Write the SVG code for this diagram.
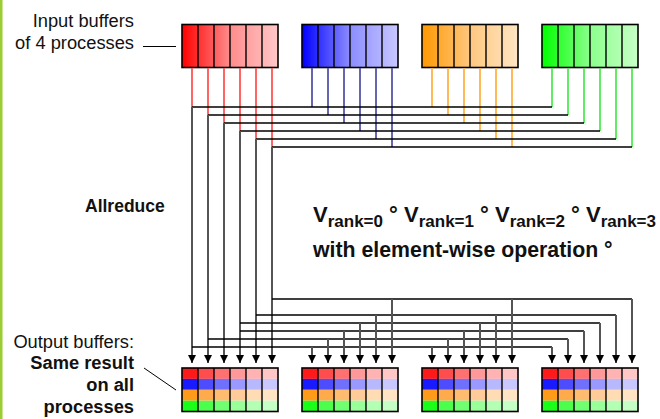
<svg xmlns="http://www.w3.org/2000/svg" width="660" height="419" viewBox="0 0 660 419">
  <style>
    .lbl { font-family: "Liberation Sans", Arial, sans-serif; fill: #111; }
    .side { font-size: 18.3px; }
    .b { font-weight: bold; }
    .title { font-size: 17.5px; }
    .eq { font-size: 22px; }
    .sub { font-size: 17px; }
    .note { font-size: 21.3px; }
    .box { fill: none; stroke: #000; stroke-width: 1.6; }
    .div { stroke: #000; stroke-width: 1.4; }
    .tie { stroke: #000; stroke-width: 1.3; fill: none; }
    .feed { stroke: #555; stroke-width: 2; fill: none; marker-end: url(#head); }
    .r { stroke: #ff5555; stroke-width: 1.8; }
    .bl { stroke: #5555aa; stroke-width: 1.8; }
    .o { stroke: #ffb347; stroke-width: 1.8; }
    .g { stroke: #55e855; stroke-width: 1.8; }
  </style>
  <defs>
    <linearGradient id="gr" x1="0" x2="1" y1="0" y2="0">
      <stop offset="0" stop-color="#ff0000"/><stop offset="0.5" stop-color="#ff8c8c"/><stop offset="1" stop-color="#ffc8c8"/>
    </linearGradient>
    <linearGradient id="gb" x1="0" x2="1" y1="0" y2="0">
      <stop offset="0" stop-color="#0000ff"/><stop offset="0.5" stop-color="#8c8cff"/><stop offset="1" stop-color="#c8c8ff"/>
    </linearGradient>
    <linearGradient id="go" x1="0" x2="1" y1="0" y2="0">
      <stop offset="0" stop-color="#ff9900"/><stop offset="0.5" stop-color="#ffc77f"/><stop offset="1" stop-color="#ffe6c4"/>
    </linearGradient>
    <linearGradient id="gg" x1="0" x2="1" y1="0" y2="0">
      <stop offset="0" stop-color="#00ff00"/><stop offset="0.5" stop-color="#8cff8c"/><stop offset="1" stop-color="#c8ffc8"/>
    </linearGradient>
    <marker id="head" viewBox="0 0 8 8" refX="8" refY="4" markerWidth="8" markerHeight="8" markerUnits="userSpaceOnUse" orient="auto">
      <path d="M0,0 L8,4 L0,8 z" fill="#000"/>
    </marker>
    <!-- one output buffer: four rows of six cells -->
    <g id="outbuf">
      <rect x="0" y="0" width="16" height="10.9" fill="#ff1a1a"/><rect x="16" y="0" width="16" height="10.9" fill="#ff4d4d"/><rect x="32" y="0" width="16" height="10.9" fill="#ff7070"/><rect x="48" y="0" width="16" height="10.9" fill="#ff9999"/><rect x="64" y="0" width="16" height="10.9" fill="#ffb3b3"/><rect x="80" y="0" width="16" height="10.9" fill="#ffc6c6"/>
      <rect x="0" y="10.9" width="16" height="10.9" fill="#1a1aff"/><rect x="16" y="10.9" width="16" height="10.9" fill="#4d4dff"/><rect x="32" y="10.9" width="16" height="10.9" fill="#7070ff"/><rect x="48" y="10.9" width="16" height="10.9" fill="#9999ff"/><rect x="64" y="10.9" width="16" height="10.9" fill="#b8b8ff"/><rect x="80" y="10.9" width="16" height="10.9" fill="#c8c8ff"/>
      <rect x="0" y="21.8" width="16" height="10.9" fill="#ff9a1a"/><rect x="16" y="21.8" width="16" height="10.9" fill="#ffab4d"/><rect x="32" y="21.8" width="16" height="10.9" fill="#ffbb70"/><rect x="48" y="21.8" width="16" height="10.9" fill="#ffcc99"/><rect x="64" y="21.8" width="16" height="10.9" fill="#ffdcb3"/><rect x="80" y="21.8" width="16" height="10.9" fill="#ffe4c4"/>
      <rect x="0" y="32.7" width="16" height="10.8" fill="#1aff1a"/><rect x="16" y="32.7" width="16" height="10.8" fill="#4dff4d"/><rect x="32" y="32.7" width="16" height="10.8" fill="#70ff70"/><rect x="48" y="32.7" width="16" height="10.8" fill="#99ff99"/><rect x="64" y="32.7" width="16" height="10.8" fill="#b3ffb3"/><rect x="80" y="32.7" width="16" height="10.8" fill="#c6ffc6"/>
      <path class="div" d="M16,0V43.5M32,0V43.5M48,0V43.5M64,0V43.5M80,0V43.5"/>
      <rect class="box" x="0" y="0" width="96" height="43.5"/>
    </g>
    <path id="cells" class="div" d="M16,0V43M32,0V43M48,0V43M64,0V43M80,0V43"/>
  </defs>

  <!-- page edge -->
  <rect x="0" y="0" width="2.5" height="419" fill="#9acd32"/>

  <!-- input buffers -->
  <g id="in-rank0">
    <rect x="182" y="24.5" width="96" height="43" fill="url(#gr)"/>
    <use href="#cells" x="182" y="24.5"/>
    <rect class="box" x="182" y="24.5" width="96" height="43"/>
  </g>
  <g id="in-rank1">
    <rect x="302" y="24.5" width="96" height="43" fill="url(#gb)"/>
    <use href="#cells" x="302" y="24.5"/>
    <rect class="box" x="302" y="24.5" width="96" height="43"/>
  </g>
  <g id="in-rank2">
    <rect x="422" y="24.5" width="96" height="43" fill="url(#go)"/>
    <use href="#cells" x="422" y="24.5"/>
    <rect class="box" x="422" y="24.5" width="96" height="43"/>
  </g>
  <g id="in-rank3">
    <rect x="542" y="24.5" width="96" height="43" fill="url(#gg)"/>
    <use href="#cells" x="542" y="24.5"/>
    <rect class="box" x="542" y="24.5" width="96" height="43"/>
  </g>

  <!-- output buffers -->
  <g id="out-rank0"><use href="#outbuf" x="182" y="368"/></g>
  <g id="out-rank1"><use href="#outbuf" x="302" y="368"/></g>
  <g id="out-rank2"><use href="#outbuf" x="422" y="368"/></g>
  <g id="out-rank3"><use href="#outbuf" x="542" y="368"/></g>

  <g id="connectors">
    <!-- element lines leaving each input buffer -->
    <path class="r" d="M192,68V107M208,68V115M224,68V123M240,68V131M256,68V139M272,68V147"/>
    <path class="bl" d="M312,68V107M328,68V115M344,68V123M360,68V131M376,68V139M392,68V147"/>
    <path class="o" d="M432,68V107M448,68V115M464,68V123M480,68V131M496,68V139M512,68V147"/>
    <path class="g" d="M552,68V107M568,68V115M584,68V123M600,68V131M616,68V139M632,68V147"/>
    <!-- gathering rails -->
    <path class="tie" d="M192,107H552M208,115H568M224,123H584M240,131H600M256,139H616M272,147H632"/>
    <!-- reduced elements down to the first output buffer -->
    <path class="feed" d="M192,107V363"/>
    <path class="feed" d="M208,115V363"/>
    <path class="feed" d="M224,123V363"/>
    <path class="feed" d="M240,131V363"/>
    <path class="feed" d="M256,139V363"/>
    <path class="feed" d="M272,147V363"/>
    <!-- distribution rails -->
    <path class="tie" d="M192,347H552M208,339H568M240,331H584M240,323H600M256,315H616M272,299H632"/>
    <!-- drops into the other output buffers -->
    <path class="feed" d="M312,347V363"/><path class="feed" d="M328,339V363"/><path class="feed" d="M344,331V363"/><path class="feed" d="M360,323V363"/><path class="feed" d="M376,315V363"/><path class="feed" d="M392,299V363"/>
    <path class="feed" d="M432,347V363"/><path class="feed" d="M448,339V363"/><path class="feed" d="M464,331V363"/><path class="feed" d="M480,323V363"/><path class="feed" d="M496,315V363"/><path class="feed" d="M512,299V363"/>
    <path class="feed" d="M552,347V363"/><path class="feed" d="M568,339V363"/><path class="feed" d="M584,331V363"/><path class="feed" d="M600,323V363"/><path class="feed" d="M616,315V363"/><path class="feed" d="M632,299V363"/>
    <!-- label leaders -->
    <path d="M143,46.5H176" stroke="#000" stroke-width="1"/>
    <path d="M144,368L176,390" stroke="#000" stroke-width="1"/>
  </g>

  <!-- labels -->
  <text class="lbl side" x="134" y="27" text-anchor="end">Input buffers</text>
  <text class="lbl side" x="134" y="49" text-anchor="end">of 4 processes</text>
  <text class="lbl b title" x="85" y="211.5">Allreduce</text>
  <text class="lbl b eq" x="313" y="222">V<tspan class="sub" dy="5">rank=0</tspan><tspan dy="-5"> ° V</tspan><tspan class="sub" dy="5">rank=1</tspan><tspan dy="-5"> ° V</tspan><tspan class="sub" dy="5">rank=2</tspan><tspan dy="-5"> ° V</tspan><tspan class="sub" dy="5">rank=3</tspan></text>
  <text class="lbl b note" x="313" y="257">with element-wise operation °</text>
  <text class="lbl side" x="134" y="348" text-anchor="end">Output buffers:</text>
  <text class="lbl b side" x="134" y="369" text-anchor="end">Same result</text>
  <text class="lbl b side" x="134" y="391" text-anchor="end">on all</text>
  <text class="lbl b side" x="134" y="412.5" text-anchor="end">processes</text>
</svg>
